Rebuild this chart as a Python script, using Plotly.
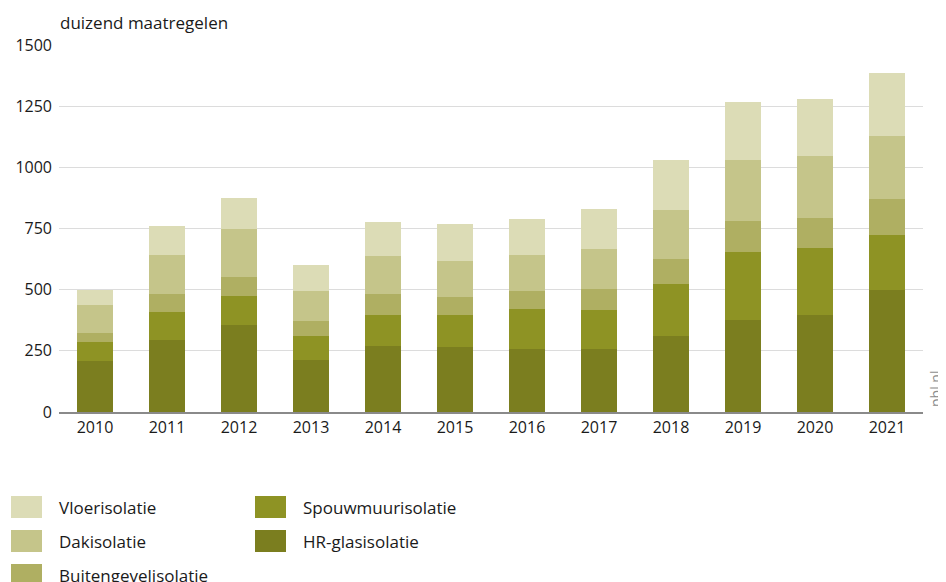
import plotly.graph_objects as go

years = ["2010", "2011", "2012", "2013", "2014", "2015", "2016", "2017", "2018", "2019", "2020", "2021"]
hr_glas = [210, 295, 356, 214, 268, 265, 258, 258, 312, 377, 397, 500]
spouwmuur = [76, 113, 118, 95, 129, 132, 162, 160, 213, 279, 275, 224]
buitengevel = [35, 74, 76, 63, 85, 74, 75, 85, 101, 125, 120, 146]
dak = [116, 158, 196, 122, 154, 148, 147, 163, 200, 247, 253, 258]
vloer = [63, 122, 129, 106, 140, 151, 147, 164, 204, 238, 235, 259]

series_names = ["HR-glasisolatie", "Spouwmuurisolatie", "Buitengevelisolatie", "Dakisolatie", "Vloerisolatie"]
series_values = [hr_glas, spouwmuur, buitengevel, dak, vloer]
series_colors = ["#7b7e1f", "#8e9324", "#afaf62", "#c5c58a", "#dcdcb6"]

y_ticks = [0, 250, 500, 750, 1000, 1250, 1500]
y_title = "duizend maatregelen"

FONT = "Open Sans"
TXT = "#1a1a1a"

fig = go.Figure()
for name, vals, col in zip(series_names, series_values, series_colors):
    fig.add_trace(go.Bar(x=years, y=vals, name=name, marker=dict(color=col, line=dict(width=0)),
                         showlegend=False))

# page has an 8px body margin; figure sized to fill the rest of the window
OFF = 8
W, H = 946 - OFF, 582 - OFF
L, R, T, B = 59 - OFF, 23, 45 - OFF, 170
pw, ph = W - L - R, H - T - B

def px_x(px):  # window pixel -> paper x
    return (px - OFF - L) / pw

def px_y(py):  # window pixel -> paper y
    return (H - B - (py - OFF)) / ph

# legend layout: column-major, 3 rows
legend_order = ["Vloerisolatie", "Dakisolatie", "Buitengevelisolatie", "Spouwmuurisolatie", "HR-glasisolatie"]
col_x = [11, 255]
row_y = [507, 541, 575]
shapes = []
annotations = []
for i, nm in enumerate(legend_order):
    c, r = divmod(i, 3)
    col = series_colors[series_names.index(nm)]
    x0 = col_x[c]
    yc = row_y[r]
    shapes.append(dict(type="rect", xref="paper", yref="paper",
                       x0=px_x(x0), x1=px_x(x0 + 31), y0=px_y(yc + 11), y1=px_y(yc - 11),
                       fillcolor=col, line=dict(width=0)))
    annotations.append(dict(text=nm, xref="paper", yref="paper", x=px_x(x0 + 46), y=px_y(yc),
                            xanchor="left", yanchor="middle", showarrow=False,
                            font=dict(family=FONT, size=17, color=TXT)))

annotations.append(dict(text=y_title, xref="paper", yref="paper", x=px_x(58), y=px_y(22),
                        xanchor="left", yanchor="middle", showarrow=False,
                        font=dict(family=FONT, size=17, color=TXT)))
annotations.append(dict(text="pbl.nl", xref="paper", yref="paper", x=px_x(935), y=px_y(389),
                        xanchor="center", yanchor="middle", showarrow=False, textangle=-90,
                        font=dict(family=FONT, size=14, color="#8c8c8c")))

fig.update_layout(
    width=W, height=H,
    margin=dict(l=L, r=R, t=T, b=B, autoexpand=False),
    barmode="stack", bargap=0.5,
    plot_bgcolor="white", paper_bgcolor="white",
    font=dict(family=FONT, size=16, color=TXT),
    shapes=shapes, annotations=annotations,
    xaxis=dict(type="category", range=[-0.5, 11.5], showgrid=False, showline=True,
               linecolor="#8a8a8a", linewidth=1.5, ticks="", tickfont=dict(size=16, color=TXT),
               fixedrange=True),
    yaxis=dict(range=[0, 1500], tickvals=y_ticks, ticktext=[str(v) for v in y_ticks],
               showgrid=True, gridcolor="#dcdcdc", gridwidth=1, zeroline=False,
               showline=False, ticks="", ticklabelstandoff=6,
               tickfont=dict(size=16, color=TXT), fixedrange=True),
)

fig.write_html("out.html")
